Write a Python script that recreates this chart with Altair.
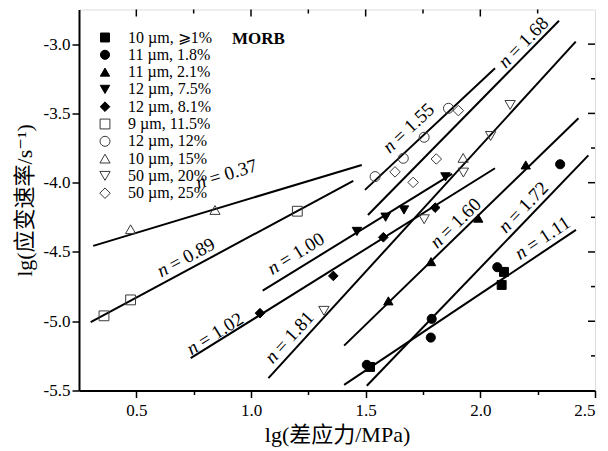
import altair as alt
import pandas as pd

FONT = "Liberation Serif, DejaVu Serif, Noto Sans CJK SC"

# ---------------- data ----------------
series_labels = ["10 µm, ⩾1%", "11 µm, 1.8%", "11 µm, 2.1%", "12 µm, 7.5%", "12 µm, 8.1%",
                 "9 µm, 11.5%", "12 µm, 12%", "10 µm, 15%", "50 µm, 20%", "50 µm, 25%"]

s1_x = [1.519, 2.103, 2.093]
s1_y = [-5.33, -4.644, -4.738]
s2_x = [1.505, 1.788, 1.784, 2.074, 2.348]
s2_y = [-5.315, -4.983, -5.118, -4.610, -3.867]
s3_x = [1.599, 1.785, 1.991, 2.198]
s3_y = [-4.853, -4.570, -4.256, -3.872]
s4_x = [1.462, 1.587, 1.667, 1.848]
s4_y = [-4.352, -4.249, -4.197, -3.958]
s5_x = [1.039, 1.359, 1.577, 1.803]
s5_y = [-4.942, -4.673, -4.394, -4.180]
s6_x = [0.359, 0.475, 1.202]
s6_y = [-4.961, -4.846, -4.206]
s7_x = [1.541, 1.664, 1.755, 1.861]
s7_y = [-3.956, -3.824, -3.672, -3.463]
s8_x = [0.475, 0.843, 1.925]
s8_y = [-4.336, -4.197, -3.821]
s9_x = [1.318, 1.755, 1.926, 2.045, 2.130]
s9_y = [-4.925, -4.264, -3.927, -3.663, -3.439]
s10_x = [1.628, 1.707, 1.808, 1.904]
s10_y = [-3.922, -3.998, -3.829, -3.480]

all_x = [s1_x, s2_x, s3_x, s4_x, s5_x, s6_x, s7_x, s8_x, s9_x, s10_x]
all_y = [s1_y, s2_y, s3_y, s4_y, s5_y, s6_y, s7_y, s8_y, s9_y, s10_y]

# fitted lines: n value, start and end points
fit_n = ["0.37", "0.89", "1.02", "1.00", "1.81", "1.55", "1.68", "1.60", "1.72", "1.11"]
fit_x1 = [0.312, 0.301, 0.737, 1.051, 1.076, 1.497, 1.510, 1.406, 1.505, 1.406]
fit_y1 = [-4.456, -5.007, -5.267, -4.779, -5.411, -4.052, -4.233, -5.176, -5.466, -5.459]
fit_x2 = [1.483, 1.446, 2.064, 1.877, 2.416, 2.064, 2.343, 2.428, 2.471, 2.417]
fit_y2 = [-3.872, -3.987, -3.896, -3.937, -2.982, -3.174, -2.831, -3.535, -3.803, -4.341]

# label anchor positions (data units) and text angles
lab_x = [0.900, 0.725, 0.852, 1.205, 1.179, 1.698, 2.199, 1.903, 2.199, 2.282]
lab_y = [-3.958, -4.557, -5.106, -4.528, -5.127, -3.619, -2.999, -4.305, -4.189, -4.413]
lab_ang = [343.2, 331.8, 328.0, 328.4, 312.4, 316.9, 314.5, 315.9, 313.9, 326.3]

x_ticks = [0.5, 0.75, 1.0, 1.25, 1.5, 1.75, 2.0, 2.25, 2.5]
y_ticks = [-5.5, -5.25, -5.0, -4.75, -4.5, -4.25, -4.0, -3.75, -3.5, -3.25, -3.0]
top_major = [0.5, 1.0, 1.5, 2.0]
top_minor = [0.75, 1.25, 1.75, 2.25]
right_major = [-5.0, -4.5, -4.0, -3.5, -3.0]
right_minor = [-5.25, -4.75, -4.25, -3.75, -3.25]

# ---------------- tables ----------------
pts = pd.DataFrame([
    {"s": lab, "x": xv, "y": yv}
    for lab, xs, ys in zip(series_labels, all_x, all_y)
    for xv, yv in zip(xs, ys)
])
lines = pd.DataFrame(
    [{"n": n, "x": a, "y": b, "o": 0} for n, a, b in zip(fit_n, fit_x1, fit_y1)] +
    [{"n": n, "x": a, "y": b, "o": 1} for n, a, b in zip(fit_n, fit_x2, fit_y2)]
)
labels = pd.DataFrame({"n": fit_n, "x": lab_x, "y": lab_y, "ang": lab_ang,
                       "rest": ["= " + v for v in fit_n]})

W, H = 516, 381
xs = alt.Scale(domain=[0.25, 2.5], nice=False, zero=False)
ys = alt.Scale(domain=[-5.5, -2.75], nice=False, zero=False)

major_test = "abs(datum.value*2 - round(datum.value*2)) < 0.001"

x_axis = alt.Axis(
    values=x_ticks, grid=False,
    labelExpr=f"{major_test} ? format(datum.value, '.1f') : ''",
    tickSize={"condition": {"test": major_test, "value": 7}, "value": 4},
    tickWidth=1.5, tickColor="black", domainColor="black", domainWidth=2,
    labelFont=FONT, labelFontSize=17, labelColor="black", labelPadding=5,
    title="lg(差应力/MPa)", titleFont=FONT, titleFontSize=22, titleFontWeight="normal",
    titleColor="black", titlePadding=6,
)
y_axis = alt.Axis(
    values=y_ticks, grid=False,
    labelExpr=f"{major_test} ? (datum.value < 0 ? '-' : '') + format(abs(datum.value), '.1f') : ''",
    tickSize={"condition": {"test": major_test, "value": 7}, "value": 4},
    tickWidth=1.5, tickColor="black", domainColor="black", domainWidth=2,
    labelFont=FONT, labelFontSize=17, labelColor="black", labelPadding=2,
    title="lg(应变速率/s⁻¹)", titleFont=FONT, titleFontSize=22, titleFontWeight="normal",
    titleColor="black", titlePadding=7,
)

line_layer = alt.Chart(lines).mark_line(color="black", strokeWidth=2).encode(
    x=alt.X("x:Q", scale=xs, axis=x_axis),
    y=alt.Y("y:Q", scale=ys, axis=y_axis),
    detail="n:N",
    order="o:Q",
)

shapes = ["square", "circle", "triangle-up", "triangle-down", "diamond",
          "square", "circle", "triangle-up", "triangle-down", "diamond"]
fills = ["black"] * 5 + ["transparent"] * 5
strokes = ["black"] * 5 + ["#3a3a3a"] * 5
sizes = [80, 110, 120, 120, 110, 75, 100, 130, 130, 115]

leg = alt.Legend(orient="none", legendX=18, legendY=20, title=None,
                 labelFont=FONT, labelFontSize=16, labelColor="black",
                 rowPadding=1.3, labelOffset=15, padding=0, labelLimit=0,
                 symbolStrokeWidth=1)

pt_layer = alt.Chart(pts).mark_point(filled=True, opacity=1, strokeWidth=1).encode(
    x=alt.X("x:Q", scale=xs),
    y=alt.Y("y:Q", scale=ys),
    shape=alt.Shape("s:N", scale=alt.Scale(domain=series_labels, range=shapes), legend=leg),
    fill=alt.Fill("s:N", scale=alt.Scale(domain=series_labels, range=fills), legend=leg),
    stroke=alt.Stroke("s:N", scale=alt.Scale(domain=series_labels, range=strokes), legend=leg),
    size=alt.Size("s:N", scale=alt.Scale(domain=series_labels, range=sizes), legend=leg),
)

n_layer = alt.Chart(labels).mark_text(
    font=FONT, fontSize=19, fontStyle="italic", align="left", baseline="middle",
    dx=-32, dy=-3, color="black"
).encode(
    x=alt.X("x:Q", scale=xs), y=alt.Y("y:Q", scale=ys),
    angle=alt.Angle("ang:Q", scale=None), text=alt.value("n"),
)
rest_layer = alt.Chart(labels).mark_text(
    font=FONT, fontSize=19, align="left", baseline="middle", dx=-18, dy=-3, color="black"
).encode(
    x=alt.X("x:Q", scale=xs), y=alt.Y("y:Q", scale=ys),
    angle=alt.Angle("ang:Q", scale=None), text="rest:N",
)

tm = pd.DataFrame({"v": top_major})
tn = pd.DataFrame({"v": top_minor})
rm = pd.DataFrame({"v": right_major})
rn = pd.DataFrame({"v": right_minor})
tick_style = dict(color="black", strokeWidth=1.5)
top_maj = alt.Chart(tm).mark_rule(**tick_style).encode(
    x=alt.X("v:Q", scale=xs), y=alt.value(0), y2=alt.value(7))
top_min = alt.Chart(tn).mark_rule(**tick_style).encode(
    x=alt.X("v:Q", scale=xs), y=alt.value(0), y2=alt.value(4))
right_maj = alt.Chart(rm).mark_rule(**tick_style).encode(
    y=alt.Y("v:Q", scale=ys), x=alt.value(W), x2=alt.value(W - 7))
right_min = alt.Chart(rn).mark_rule(**tick_style).encode(
    y=alt.Y("v:Q", scale=ys), x=alt.value(W), x2=alt.value(W - 4))

morb = alt.Chart(pd.DataFrame({"t": ["MORB"]})).mark_text(
    font=FONT, fontSize=17, fontWeight="bold", align="left", baseline="middle", color="black"
).encode(x=alt.value(153), y=alt.value(29), text="t:N")

chart = alt.layer(
    line_layer, pt_layer, n_layer, rest_layer,
    top_maj, top_min, right_maj, right_min, morb
).properties(
    width=W, height=H,
    autosize=alt.AutoSizeParams(type="none"),
    padding={"left": 79, "top": 9.5, "right": 13, "bottom": 60.5},
).configure_view(stroke="black", strokeWidth=2).configure(background="white")

chart.save("out.html", embed_options={"renderer": "svg", "actions": False})
